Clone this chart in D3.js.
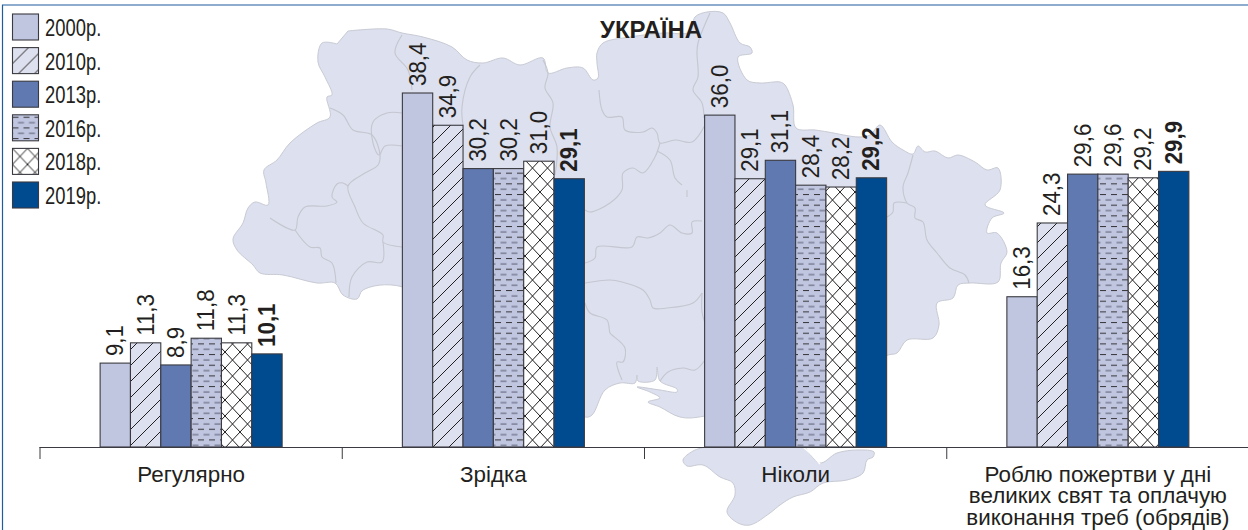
<!DOCTYPE html>
<html>
<head>
<meta charset="utf-8">
<script src="https://cdn.jsdelivr.net/npm/d3@7"></script>
<style>
  html, body { margin: 0; padding: 0; background: #fff; }
  text { font-family: "Liberation Sans", Arial, sans-serif; fill: #231f20; }
</style>
</head>
<body>
<script>
const categories = ["Регулярно", "Зрідка", "Ніколи", "Роблю пожертви у дні|великих свят та оплачую|виконання треб (обрядів)"];
const years = ["2000р.", "2010р.", "2013р.", "2016р.", "2018р.", "2019р."];
const v2000 = [9.1, 38.4, 36.0, 16.3];
const v2010 = [11.3, 34.9, 29.1, 24.3];
const v2013 = [8.9, 30.2, 31.1, 29.6];
const v2016 = [11.8, 30.2, 28.4, 29.6];
const v2018 = [11.3, 31.0, 28.2, 29.2];
const v2019 = [10.1, 29.1, 29.2, 29.9];
const seriesValues = [v2000, v2010, v2013, v2016, v2018, v2019];

// background map of Ukraine, traced in page pixels
const mapOutline = [[348,31],[387,29],[402,33],[423,37],[452,47],[467,60],[483,63],[503,58],[520,65],[543,58],[548,73],[567,68],[583,68],[593,80],[598,78],[597,63],[597,53],[603,43],[630,37],[663,33],[690,32],[695,17],[707,12],[723,13],[730,23],[740,43],[750,47],[752,53],[738,57],[747,80],[760,83],[780,82],[785,85],[793,105],[796,128],[815,130],[828,132],[859,137],[870,135],[880,125],[892,142],[903,150],[913,154],[918,146],[925,152],[935,151],[948,158],[958,155],[975,162],[987,170],[998,168],[1000,190],[985,205],[1004,213],[992,218],[987,233],[997,233],[1007,252],[1001,263],[998,282],[970,283],[958,285],[953,298],[937,303],[939,325],[933,338],[907,340],[897,353],[888,355],[705,416],[680,417],[660,407],[648,402],[660,398],[650,392],[637,387],[660,390],[677,392],[677,389],[660,381],[657,367],[655,380],[638,381],[637,375],[635,383],[620,383],[605,390],[592,415],[585,417],[403,287],[363,290],[357,299],[343,295],[335,283],[317,283],[283,275],[260,273],[253,265],[237,250],[233,239],[243,223],[248,208],[255,202],[268,205],[266,183],[264,170],[277,160],[290,143],[317,123],[330,117],[327,97],[332,95],[325,77],[318,62],[322,43],[337,44]];
const crimea = [[705,447],[693,451],[683,460],[687,466],[703,465],[720,477],[733,483],[735,495],[727,512],[738,523],[750,525],[770,513],[780,505],[793,497],[810,492],[823,483],[847,480],[863,473],[867,460],[873,457],[874,452],[858,450],[837,453],[820,463],[805,447]];
const arabat = [[803,447],[812,455],[820,464]];
const regionLines = [
  [[330,108],[343,115],[353,130],[372,135],[380,155],[378,165],[365,173],[348,186],[355,207],[363,223],[383,235],[383,242],[402,247]],
  [[402,113],[387,113],[373,122],[373,143],[379,155],[385,146],[402,146]],
  [[348,186],[343,183],[337,184],[332,197],[337,202],[327,206],[305,207],[298,217],[295,230],[270,218]],
  [[295,230],[310,247],[320,248],[322,257],[332,263],[336,283]],
  [[383,242],[382,262],[367,262],[352,277],[349,297]],
  [[402,35],[395,53],[408,70],[412,90]],
  [[480,65],[470,77],[462,107],[463,125]],
  [[543,60],[548,73],[545,88],[553,103],[550,127],[557,147],[555,175]],
  [[599,90],[602,110],[607,117],[622,117],[625,130],[643,132],[652,128],[657,133],[660,143],[675,140],[692,142],[705,125]],
  [[710,13],[698,43],[697,53],[698,77],[693,90],[702,103],[704,118]],
  [[660,143],[655,157],[643,173],[633,168],[623,173],[622,190],[610,203],[590,212],[585,210]],
  [[657,151],[670,160],[675,178],[682,185]],
  [[687,190],[687,197]],
  [[702,221],[692,222],[692,233],[682,233],[670,225],[660,233],[648,238],[637,237],[632,247],[597,247],[595,258],[585,263]],
  [[585,283],[610,280],[622,282],[643,290],[650,300],[653,308],[667,308],[693,303],[702,293]],
  [[702,293],[702,312],[705,323]],
  [[585,303],[590,313],[607,320],[610,333],[612,335],[625,348],[623,362],[617,362],[622,380]],
  [[705,360],[695,370],[683,368],[668,372],[660,381]],
  [[913,155],[908,173],[903,187],[907,203],[915,208],[915,218],[923,222],[927,240],[937,253],[950,268],[965,275],[969,283]],
  [[887,217],[893,212],[894,203],[907,203]]
];

const width = 1248, height = 530;
const baseline = 447;

const svg = d3.select("body").append("svg")
  .attr("width", width).attr("height", height)
  .style("display", "block");

// patterns for the hatched series
const defs = svg.append("defs");
const hatch = defs.append("pattern").attr("id", "p2010")
  .attr("patternUnits", "userSpaceOnUse").attr("width", 16).attr("height", 16);
hatch.append("rect").attr("width", 16).attr("height", 16).attr("fill", "#dde0ee");
hatch.append("path").attr("d", "M-2,2L2,-2M0,16L16,0M14,18L18,14")
  .attr("stroke", "#231f20").attr("stroke-width", 1);

const dash = defs.append("pattern").attr("id", "p2016")
  .attr("patternUnits", "userSpaceOnUse").attr("width", 11).attr("height", 10.67);
dash.append("rect").attr("width", 11).attr("height", 10.67).attr("fill", "#c0c6e0");
dash.append("path").attr("d", "M0,2.5H6").attr("stroke", "#231f20").attr("stroke-width", 0.9);
dash.append("path").attr("d", "M5.5,7.8H11.5M-5.5,7.8H0.5").attr("stroke", "#6b6f85").attr("stroke-width", 1.2);

const cross = defs.append("pattern").attr("id", "p2018")
  .attr("patternUnits", "userSpaceOnUse").attr("width", 15).attr("height", 16);
cross.append("rect").attr("width", 15).attr("height", 16).attr("fill", "#fff");
cross.append("path").attr("d", "M0,0L15,16M0,16L15,0")
  .attr("stroke", "#231f20").attr("stroke-width", 1);

const fills = ["#c0c6e0", "url(#p2010)", "#6079b0", "url(#p2016)", "url(#p2018)", "#004a90"];

// frame
svg.append("path").attr("d", "M2.5,530V5H1248")
  .attr("fill", "none").attr("stroke", "#1f5c9e").attr("stroke-width", 1.2);

// map
const mapLine = d3.line().curve(d3.curveCatmullRom.alpha(0.5));
const mapG = svg.append("g");
mapG.selectAll("path.land").data([mapOutline, crimea]).enter().append("path")
  .attr("class", "land")
  .attr("d", d => mapLine(d) + "Z")
  .attr("fill", "#dde0ee").attr("stroke", "#c8cad4").attr("stroke-width", 1);
mapG.selectAll("path.region").data(regionLines).enter().append("path")
  .attr("class", "region")
  .attr("d", mapLine)
  .attr("fill", "none").attr("stroke", "#c4c6d0").attr("stroke-width", 1.1);
mapG.append("path").attr("d", mapLine(arabat))
  .attr("fill", "none").attr("stroke", "#fff").attr("stroke-width", 1.6);

// scales
const x0 = d3.scaleBand().domain(categories).range([40, 1249]);
const x1 = d3.scaleBand().domain(years).range([0, 182]);
const y = d3.scaleLinear().domain([0, 38.4]).range([baseline, 93]);
const fmt = v => v.toFixed(1).replace(".", ",");
const groupLeft = c => x0(c) + (x0.bandwidth() - x1.range()[1]) / 2;

// bars and labels
const groups = svg.selectAll("g.year").data(years).enter().append("g").attr("class", "year");
groups.each(function (yr, s) {
  const g = d3.select(this);
  g.selectAll("rect").data(seriesValues[s]).enter().append("rect")
    .attr("x", (d, i) => groupLeft(categories[i]) + x1(yr))
    .attr("y", d => y(d))
    .attr("width", x1.bandwidth())
    .attr("height", d => baseline - y(d))
    .attr("fill", fills[s])
    .attr("stroke", "#3a3a40").attr("stroke-width", 1.1);
  g.selectAll("text").data(seriesValues[s]).enter().append("text")
    .attr("transform", (d, i) => {
      const cx = groupLeft(categories[i]) + x1(yr) + x1.bandwidth() / 2 + 8;
      return `translate(${cx},${y(d) - 7}) rotate(-90) scale(0.93,1)`;
    })
    .attr("font-size", 24)
    .attr("font-weight", s === 5 ? "bold" : "normal")
    .text(fmt);
});

// axis
const axis = d3.axisBottom(x0).tickValues([]).tickSize(0);
const axisG = svg.append("g").attr("transform", `translate(0,${baseline})`).call(axis);
axisG.select(".domain").attr("d", "M39.5,0.5H1248").attr("stroke", "#3a3a40").attr("stroke-width", 1.2);
axisG.selectAll("line.sep").data(categories).enter().append("line")
  .attr("class", "sep")
  .attr("x1", d => x0(d)).attr("x2", d => x0(d))
  .attr("y1", 0).attr("y2", 12)
  .attr("stroke", "#3a3a40").attr("stroke-width", 1);

// category labels
categories.forEach(c => {
  const lines = c.split("|");
  const t = svg.append("text").attr("text-anchor", "middle").attr("font-size", 22.4);
  lines.forEach((l, i) => {
    t.append("tspan")
      .attr("x", x0(c) + x0.bandwidth() / 2)
      .attr("y", 481.5 + i * 21.5)
      .text(l);
  });
});

// title
svg.append("text").attr("x", 600).attr("y", 38)
  .attr("font-size", 24).attr("font-weight", "bold").text("УКРАЇНА");

// legend
const legendY = d3.scalePoint().domain(years).range([14, 182]);
const legend = svg.selectAll("g.legend").data(years).enter().append("g").attr("class", "legend")
  .attr("transform", d => `translate(12.5,${legendY(d)})`);
legend.append("rect").attr("width", 26).attr("height", 26)
  .attr("fill", (d, i) => fills[i])
  .attr("stroke", "#3a3a40").attr("stroke-width", 1.1);
legend.append("text")
  .attr("transform", "translate(32.5,22) scale(0.8,1)")
  .attr("font-size", 23)
  .text(d => d);
</script>
</body>
</html>
